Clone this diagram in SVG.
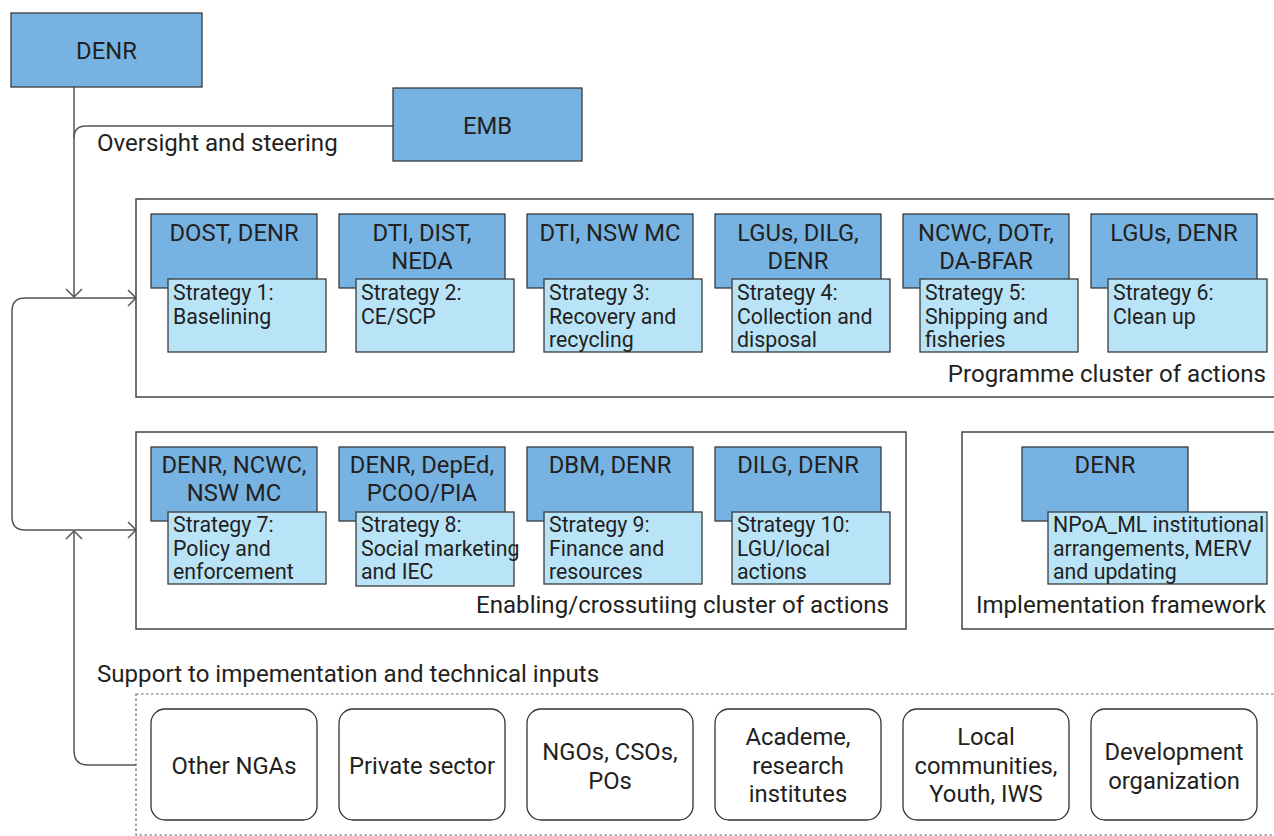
<svg xmlns="http://www.w3.org/2000/svg" width="1274" height="836" viewBox="0 0 1274 836">
<style>
text{font-family:Roboto,"Liberation Sans",sans-serif;fill:#231f20}
.org{fill:#77b3e2;stroke:#3a3a3a;stroke-width:1.3}
.str{fill:#b9e4f8;stroke:#3a3a3a;stroke-width:1.3}
.ot{font-size:23.8px;text-anchor:middle}
.st{font-size:21.3px}
.lbl{font-size:24.1px}
.grp{fill:#fff;stroke:#444;stroke-width:1.5}
.sup{fill:#fff;stroke:#333;stroke-width:1.3}
.conn{fill:none;stroke:#555;stroke-width:1.5}
</style>
<defs>
<marker id="ah" markerUnits="userSpaceOnUse" viewBox="-10 -10 12 20" refX="0" refY="0" markerWidth="12" markerHeight="20" orient="auto-start-reverse">
<path d="M-8,-8 L0,0 L-8,8" fill="none" stroke="#555" stroke-width="1.5"/>
</marker>
</defs>
<rect width="1274" height="836" fill="#fff"/>

<g id="connectors">
<path class="conn" d="M74,87 V297" marker-end="url(#ah)"/>
<path class="conn" d="M393,126 H86 Q74,126 74,138"/>
<path class="conn" d="M136,298 H25 Q12,298 12,311 V517 Q12,530 25,530 H136" marker-start="url(#ah)" marker-end="url(#ah)"/>
<path class="conn" d="M136,765 H88 Q74,765 74,751 V531" marker-end="url(#ah)"/>
</g>

<g id="denr-top">
<rect class="org" x="11" y="13" width="191" height="74"/>
<text class="ot" x="106.5" y="59">DENR</text>
</g>
<g id="emb">
<rect class="org" x="393" y="88" width="189" height="73"/>
<text class="ot" x="487.5" y="134">EMB</text>
</g>
<text class="lbl" x="97" y="151">Oversight and steering</text>

<g id="programme-cluster">
<rect class="grp" x="136" y="199" width="1160" height="198"/>
<text class="lbl" x="1266" y="382" text-anchor="end">Programme cluster of actions</text>
</g>

<g id="s1">
<rect class="org" x="151" y="214" width="166" height="74"/>
<text class="ot" x="234" y="241">DOST, DENR</text>
<rect class="str" x="168" y="279" width="158" height="73"/>
<text class="st" x="173" y="300">Strategy 1:<tspan x="173" dy="23.5">Baselining</tspan></text>
</g>
<g id="s2">
<rect class="org" x="339" y="214" width="166" height="74"/>
<text class="ot" x="422" y="241">DTI, DIST,<tspan x="422" dy="28">NEDA</tspan></text>
<rect class="str" x="356" y="279" width="158" height="73"/>
<text class="st" x="361" y="300">Strategy 2:<tspan x="361" dy="23.5">CE/SCP</tspan></text>
</g>
<g id="s3">
<rect class="org" x="527" y="214" width="166" height="74"/>
<text class="ot" x="610" y="241">DTI, NSW MC</text>
<rect class="str" x="544" y="279" width="158" height="73"/>
<text class="st" x="549" y="300">Strategy 3:<tspan x="549" dy="23.5">Recovery and</tspan><tspan x="549" dy="23.5">recycling</tspan></text>
</g>
<g id="s4">
<rect class="org" x="715" y="214" width="166" height="74"/>
<text class="ot" x="798" y="241">LGUs, DILG,<tspan x="798" dy="28">DENR</tspan></text>
<rect class="str" x="732" y="279" width="158" height="73"/>
<text class="st" x="737" y="300">Strategy 4:<tspan x="737" dy="23.5">Collection and</tspan><tspan x="737" dy="23.5">disposal</tspan></text>
</g>
<g id="s5">
<rect class="org" x="903" y="214" width="166" height="74"/>
<text class="ot" x="986" y="241">NCWC, DOTr,<tspan x="986" dy="28">DA-BFAR</tspan></text>
<rect class="str" x="920" y="279" width="158" height="73"/>
<text class="st" x="925" y="300">Strategy 5:<tspan x="925" dy="23.5">Shipping and</tspan><tspan x="925" dy="23.5">fisheries</tspan></text>
</g>
<g id="s6">
<rect class="org" x="1091" y="214" width="166" height="74"/>
<text class="ot" x="1174" y="241">LGUs, DENR</text>
<rect class="str" x="1108" y="279" width="159" height="73"/>
<text class="st" x="1113" y="300">Strategy 6:<tspan x="1113" dy="23.5">Clean up</tspan></text>
</g>

<g id="enabling-cluster">
<rect class="grp" x="136" y="432" width="770" height="197"/>
<text class="lbl" x="889" y="613" text-anchor="end">Enabling/crossutiing cluster of actions</text>
</g>

<g id="s7">
<rect class="org" x="151" y="447" width="166" height="74"/>
<text class="ot" x="234" y="473">DENR, NCWC,<tspan x="234" dy="28">NSW MC</tspan></text>
<rect class="str" x="168" y="512" width="158" height="72"/>
<text class="st" x="173" y="532">Strategy 7:<tspan x="173" dy="23.5">Policy and</tspan><tspan x="173" dy="23.5">enforcement</tspan></text>
</g>
<g id="s8">
<rect class="org" x="339" y="447" width="166" height="74"/>
<text class="ot" x="422" y="473">DENR, DepEd,<tspan x="422" dy="28">PCOO/PIA</tspan></text>
<rect class="str" x="356" y="512" width="158" height="74"/>
<text class="st" x="361" y="532">Strategy 8:<tspan x="361" dy="23.5">Social marketing</tspan><tspan x="361" dy="23.5">and IEC</tspan></text>
</g>
<g id="s9">
<rect class="org" x="527" y="447" width="166" height="74"/>
<text class="ot" x="610" y="473">DBM, DENR</text>
<rect class="str" x="544" y="512" width="158" height="72"/>
<text class="st" x="549" y="532">Strategy 9:<tspan x="549" dy="23.5">Finance and</tspan><tspan x="549" dy="23.5">resources</tspan></text>
</g>
<g id="s10">
<rect class="org" x="715" y="447" width="166" height="74"/>
<text class="ot" x="798" y="473">DILG, DENR</text>
<rect class="str" x="732" y="512" width="158" height="72"/>
<text class="st" x="737" y="532">Strategy 10:<tspan x="737" dy="23.5">LGU/local</tspan><tspan x="737" dy="23.5">actions</tspan></text>
</g>

<g id="implementation-framework">
<rect class="grp" x="962" y="432" width="340" height="197"/>
<text class="lbl" x="1266" y="613" text-anchor="end">Implementation framework</text>
</g>
<g id="impl">
<rect class="org" x="1022" y="447" width="166" height="74"/>
<text class="ot" x="1105" y="473">DENR</text>
<rect class="str" x="1048" y="512" width="219" height="72"/>
<text class="st" x="1053" y="532">NPoA_ML institutional<tspan x="1053" dy="23.5">arrangements, MERV</tspan><tspan x="1053" dy="23.5">and updating</tspan></text>
</g>

<text class="lbl" x="97" y="682">Support to impementation and technical inputs</text>
<g id="support-group">
<rect x="136" y="694" width="1160" height="141" fill="none" stroke="#666" stroke-width="1.2" stroke-dasharray="2.5,2.5"/>
</g>
<g id="other-ngas">
<rect class="sup" x="151" y="709" width="166" height="111" rx="14"/>
<text class="ot" x="234" y="774">Other NGAs</text>
</g>
<g id="private-sector">
<rect class="sup" x="339" y="709" width="166" height="111" rx="14"/>
<text class="ot" x="422" y="774">Private sector</text>
</g>
<g id="ngos">
<rect class="sup" x="527" y="709" width="166" height="111" rx="14"/>
<text class="ot" x="610" y="760">NGOs, CSOs,<tspan x="610" dy="28.7">POs</tspan></text>
</g>
<g id="academe">
<rect class="sup" x="715" y="709" width="166" height="111" rx="14"/>
<text class="ot" x="798" y="745">Academe,<tspan x="798" dy="28.7">research</tspan><tspan x="798" dy="28.7">institutes</tspan></text>
</g>
<g id="local-communities">
<rect class="sup" x="903" y="709" width="166" height="111" rx="14"/>
<text class="ot" x="986" y="745">Local<tspan x="986" dy="28.7">communities,</tspan><tspan x="986" dy="28.7">Youth, IWS</tspan></text>
</g>
<g id="development-org">
<rect class="sup" x="1091" y="709" width="166" height="111" rx="14"/>
<text class="ot" x="1174" y="760">Development<tspan x="1174" dy="28.7">organization</tspan></text>
</g>
</svg>
